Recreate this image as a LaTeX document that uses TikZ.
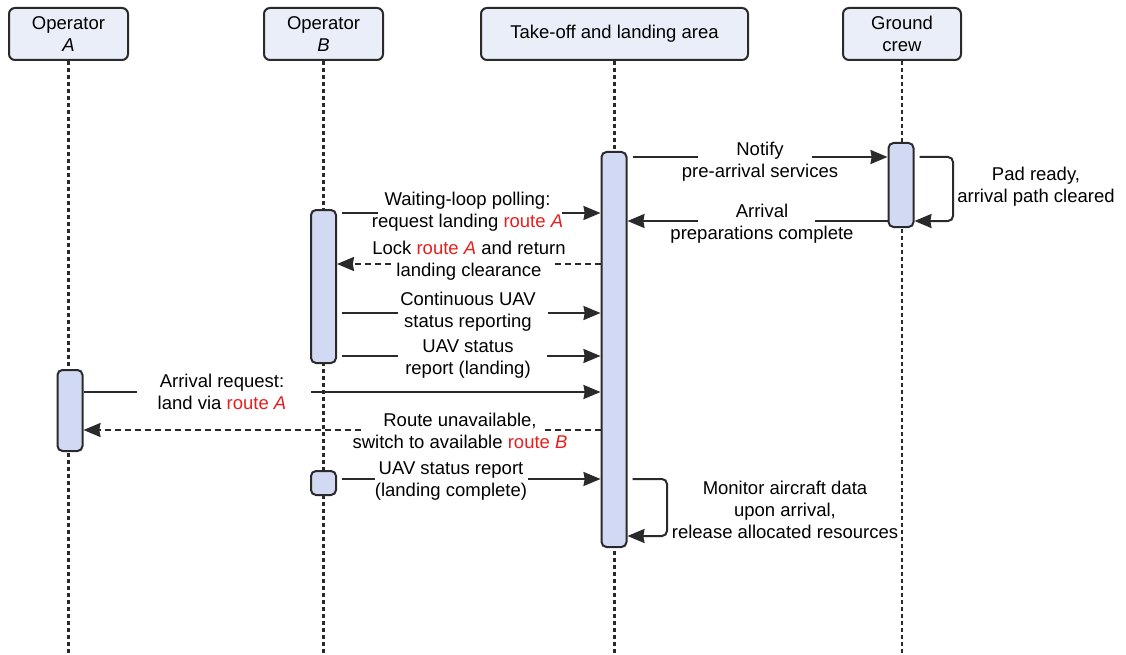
\documentclass[tikz,border=0pt]{standalone}
\usepackage{fontspec}
\setmainfont{Liberation Sans}
\usetikzlibrary{arrows.meta,calc}
\definecolor{linegray}{RGB}{42,42,42}
\definecolor{headfill}{RGB}{234,238,248}
\definecolor{actfill}{RGB}{210,218,243}
\definecolor{routered}{RGB}{232,30,30}
\newcommand{\rt}[1]{\textcolor{routered}{route \textit{#1}}}

\begin{document}
\begin{tikzpicture}[x=1pt,y=-1pt,
  font=\fontsize{18.5}{22}\selectfont,
  header/.style={draw=linegray, line width=2pt, rounded corners=6pt, fill=headfill,
    align=center, inner sep=0pt, minimum height=52pt},
  act/.style={draw=linegray, line width=2pt, rounded corners=5pt, fill=actfill,
    minimum width=25pt, inner sep=0pt},
  life/.style={draw=linegray, line width=2.2pt, dash pattern=on 4pt off 3pt},
  msg/.style={draw=linegray, line width=2pt, -{Stealth[length=17pt,width=14pt,inset=1.2pt]}},
  reply/.style={msg, dash pattern=on 6pt off 4pt},
  lbl/.style={align=center, inner sep=0pt},
  gap/.style={fill=white},
]
\useasboundingbox (0,0) rectangle (1126,655);

% lifeline heads
\node[header, minimum width=119pt] (hA) at (68.5,34) {Operator\\\textit{A}};
\node[header, minimum width=119pt] (hB) at (323.5,34) {Operator\\\textit{B}};
\node[header, minimum width=267pt] (hT) at (614.5,34) {Take-off and landing area};
\node[header, minimum width=118pt] (hG) at (902,34) {Ground\\crew};

% lifelines
\draw[life] (hA.south) -- (hA.south |- 0,655);
\draw[life] (hB.south) -- (hB.south |- 0,655);
\draw[life] (hT.south) -- (hT.south |- 0,655);
\draw[life] (hG.south) -- (hG.south |- 0,655);

% activation bars
\node[act, minimum height=395pt] (aT) at (614,349.5) {};
\node[act, minimum height=84pt] (aG) at (901,185) {};
\node[act, minimum height=153pt] (aB1) at (323.5,286.5) {};
\node[act, minimum height=24pt] (aB2) at (323.5,483) {};
\node[act, minimum height=81pt] (aA) at (70,410.5) {};

% take-off area -> ground crew
\draw[msg, shorten <=5pt] (aT.east |- 0,157) -- (aG.west |- 0,157);
\fill[gap] (698,152) rectangle (812,162);
\node[lbl] (m1) at (760,161.5) {Notify\\pre-arrival services};

% ground crew self call
\draw[msg, rounded corners=5pt, shorten <=5pt] (aG.east |- 0,157) -- (953,157) -- (953,221) -- (aG.east |- 0,221);
\node[lbl] (m2) at (1036,187) {Pad ready,\\arrival path cleared};

% ground crew -> take-off area
\draw[msg] (aG.west |- 0,221) -- (aT.east |- 0,221);
\fill[gap] (698,216) rectangle (815,226);
\node[lbl] (m3) at (762,224) {Arrival\\preparations complete};

% operator B <-> take-off area
\draw[msg, shorten <=5pt] (aB1.east |- 0,213) -- (aT.west |- 0,213);
\fill[gap] (378,208) rectangle (562,218);
\node[lbl] (m4) at (467.5,211.5) {Waiting-loop polling:\\request landing \rt{A}};

\draw[reply] (aT.west |- 0,264) -- (aB1.east |- 0,264);
\fill[gap] (395,259) rectangle (552,269);
\node[lbl] (m5) at (469,260.5) {Lock \rt{A} and return\\landing clearance};

\draw[msg, shorten <=5pt] (aB1.east |- 0,313) -- (aT.west |- 0,313);
\fill[gap] (398,308) rectangle (548,318);
\node[lbl] (m6) at (468,311.5) {Continuous UAV\\status reporting};

\draw[msg, shorten <=5pt] (aB1.east |- 0,356) -- (aT.west |- 0,356);
\fill[gap] (398,351) rectangle (547,361);
\node[lbl] (m7) at (468,359) {UAV status\\report (landing)};

% operator A <-> take-off area
\draw[msg] (aA.east |- 0,392) -- (aT.west |- 0,392);
\fill[gap] (137,387) rectangle (311,397);
\node[lbl] (m8) at (222,392) {Arrival request:\\land via \rt{A}};

\draw[reply] (aT.west |- 0,430) -- (aA.east |- 0,430);
\fill[gap] (361,425) rectangle (545,435);
\node[lbl] (m9) at (460,431) {Route unavailable,\\switch to available \rt{B}};

% final report from operator B
\draw[msg, shorten <=5pt] (aB2.east |- 0,479) -- (aT.west |- 0,479);
\fill[gap] (375,474) rectangle (528,484);
\node[lbl] (m10) at (451,481) {UAV status report\\(landing complete)};

% take-off area self call
\draw[msg, rounded corners=5pt, shorten <=5pt] (aT.east |- 0,479) -- (667,479) -- (667,536) -- (aT.east |- 0,536);
\node[lbl] (m11) at (785,509.5) {Monitor aircraft data\\upon arrival,\\release allocated resources};
\end{tikzpicture}
\end{document}
